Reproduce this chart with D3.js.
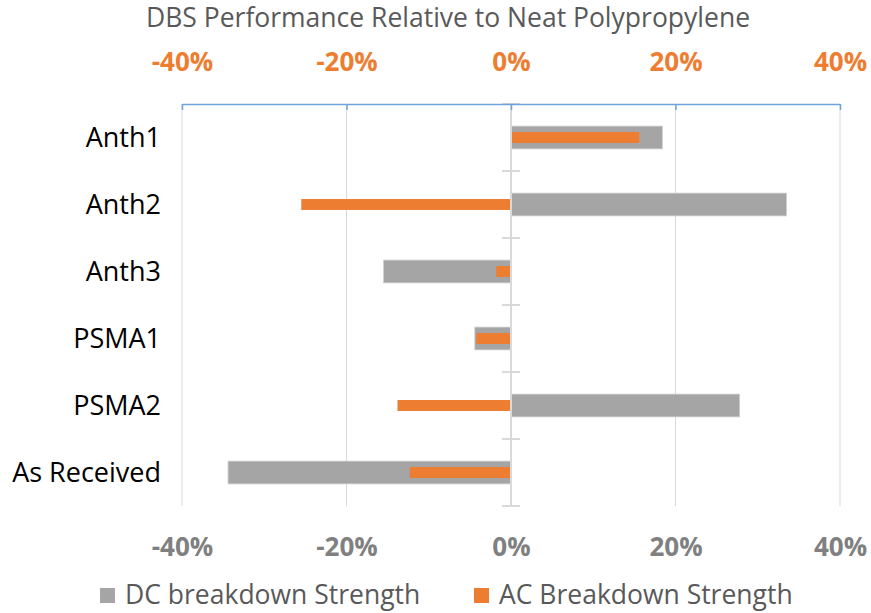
<!DOCTYPE html>
<meta charset="utf-8">
<style>
body { margin: 0; background: #fff; }
svg { font-family: "Open Sans", sans-serif; }
</style>
<svg width="871" height="613"></svg>
<script src="https://d3js.org/d3.v7.min.js"></script>
<script>

var categories = ["Anth1", "Anth2", "Anth3", "PSMA1", "PSMA2", "As Received"];
var dcValues = [0.184, 0.335, -0.155, -0.044, 0.278, -0.344];   // DC breakdown Strength
var acValues = [0.156, -0.255, -0.018, -0.042, -0.138, -0.123]; // AC Breakdown Strength
var tickValues = [-0.4, -0.2, 0, 0.2, 0.4];
var seriesNames = ["DC breakdown Strength", "AC Breakdown Strength"];

var svg = d3.select("svg");

var plotLeft = 182, plotRight = 840, plotTop = 104, plotBottom = 506;

var x = d3.scaleLinear().domain([-0.4, 0.4]).range([plotLeft, plotRight]);
// secondary axis for the AC series (same range)
var x2 = d3.scaleLinear().domain([-0.4, 0.4]).range([plotLeft, plotRight]);
var y = d3.scaleBand().domain(categories).range([plotTop, plotBottom])
    .paddingInner(0.66).paddingOuter(0.33);

var fmt = d3.formatLocale({decimal: ".", thousands: ",", grouping: [3], currency: ["", ""], minus: "-"}).format(".0%");

// title
svg.append("text")
    .attr("x", 448).attr("y", 27)
    .attr("text-anchor", "middle")
    .attr("fill", "#595959")
    .style("font-size", "26.5px")
    .text("DBS Performance Relative to Neat Polypropylene");

// gridlines
svg.append("g").selectAll("line")
  .data(tickValues.filter(function(d) { return d !== 0; }))
  .enter().append("line")
    .attr("x1", function(d) { return x(d); })
    .attr("x2", function(d) { return x(d); })
    .attr("y1", plotTop).attr("y2", plotBottom)
    .attr("stroke", "#d9d9d9").attr("stroke-width", 1);

// DC bars
svg.append("g").selectAll("rect")
  .data(categories)
  .enter().append("rect")
    .attr("x", function(d, i) { return x(Math.min(0, dcValues[i])); })
    .attr("width", function(d, i) { return Math.abs(x(dcValues[i]) - x(0)); })
    .attr("y", function(d) { return y(d); })
    .attr("height", y.bandwidth())
    .attr("fill", "#a5a5a5")
    .attr("stroke", "#cfcfcf").attr("stroke-width", 0.8);

// AC bars
var acH = y.bandwidth() * 0.48;
svg.append("g").selectAll("rect")
  .data(categories)
  .enter().append("rect")
    .attr("x", function(d, i) { return x2(Math.min(0, acValues[i])); })
    .attr("width", function(d, i) { return Math.abs(x2(acValues[i]) - x2(0)); })
    .attr("y", function(d) { return y(d) + y.bandwidth() / 2 - acH / 2; })
    .attr("height", acH)
    .attr("fill", "#ed7d31");

// category axis at zero
var catAxis = svg.append("g");
catAxis.append("line")
    .attr("x1", x(0)).attr("x2", x(0))
    .attr("y1", plotTop).attr("y2", plotBottom)
    .attr("stroke", "#d9d9d9").attr("stroke-width", 2);
catAxis.selectAll("line.tick")
  .data(d3.range(categories.length + 1))
  .enter().append("line")
    .attr("class", "tick")
    .attr("x1", x(0) - 9).attr("x2", x(0) + 9)
    .attr("y1", function(i) { return plotTop + i * y.step(); })
    .attr("y2", function(i) { return plotTop + i * y.step(); })
    .attr("stroke", "#d9d9d9").attr("stroke-width", 2);

// category labels
svg.append("g").selectAll("text")
  .data(categories)
  .enter().append("text")
    .attr("x", 161)
    .attr("y", function(d) { return y(d) + y.bandwidth() / 2; })
    .attr("dy", "0.36em")
    .attr("text-anchor", "end")
    .attr("fill", "#000")
    .style("font-size", "27px")
    .text(function(d) { return d; });

// top (secondary) axis
var topAxis = svg.append("g")
    .attr("transform", "translate(0," + plotTop + ")")
    .call(d3.axisBottom(x2).tickValues(tickValues).tickFormat(fmt).tickSize(6).tickSizeOuter(0));
topAxis.select(".domain").attr("stroke", "#6fa3dc").attr("stroke-width", 1.5);
topAxis.selectAll(".tick line").attr("stroke", "#6fa3dc").attr("stroke-width", 1.5);
topAxis.selectAll(".tick text")
    .attr("y", -42).attr("dy", "0.36em")
    .attr("fill", "#ed7d31")
    .style("font-size", "26px").style("font-weight", "bold")
    .style("font-family", "'Open Sans', sans-serif");

// bottom axis labels
var bottomAxis = svg.append("g")
    .attr("transform", "translate(0," + plotBottom + ")")
    .call(d3.axisBottom(x).tickValues(tickValues).tickFormat(fmt).tickSize(0));
bottomAxis.select(".domain").remove();
bottomAxis.selectAll(".tick text")
    .attr("y", 41).attr("dy", "0.36em")
    .attr("fill", "#808080")
    .style("font-size", "26px").style("font-weight", "bold")
    .style("font-family", "'Open Sans', sans-serif");

// legend
var legendX = [100, 474];
var legendColors = ["#a5a5a5", "#ed7d31"];
var legend = svg.append("g").selectAll("g")
  .data(seriesNames)
  .enter().append("g")
    .attr("transform", function(d, i) { return "translate(" + legendX[i] + ",588)"; });
legend.append("rect")
    .attr("width", 15).attr("height", 15)
    .attr("fill", function(d, i) { return legendColors[i]; });
legend.append("text")
    .attr("x", 25).attr("y", 16)
    .attr("fill", "#595959")
    .style("font-size", "26.5px")
    .text(function(d) { return d; });

</script>
